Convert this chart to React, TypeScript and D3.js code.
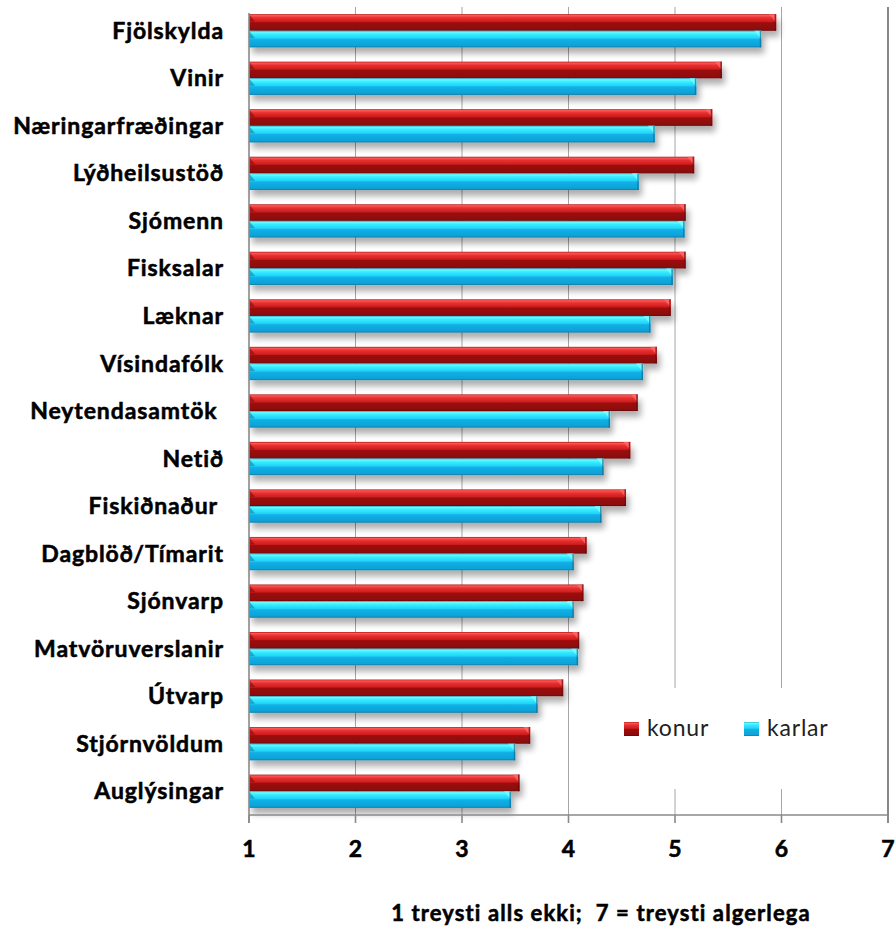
import React from "react";
import * as d3 from "d3";

const categories = [
  "Fjölskylda",
  "Vinir",
  "Næringarfræðingar",
  "Lýðheilsustöð",
  "Sjómenn",
  "Fisksalar",
  "Læknar",
  "Vísindafólk",
  "Neytendasamtök ",
  "Netið",
  "Fiskiðnaður ",
  "Dagblöð/Tímarit",
  "Sjónvarp",
  "Matvöruverslanir",
  "Útvarp",
  "Stjórnvöldum",
  "Auglýsingar",
];
const konur = [5.95, 5.44, 5.35, 5.18, 5.1, 5.1, 4.96, 4.83, 4.65, 4.58, 4.54, 4.17, 4.14, 4.1, 3.95, 3.64, 3.54];
const karlar = [5.81, 5.2, 4.81, 4.66, 5.09, 4.98, 4.77, 4.7, 4.39, 4.33, 4.31, 4.05, 4.05, 4.09, 3.71, 3.5, 3.46];
const seriesNames = ["konur", "karlar"];
const xTicks = [1, 2, 3, 4, 5, 6, 7];
const axisTitle = "1 treysti alls ekki;  7 = treysti algerlega";

const W = 895;
const H = 926;

export default function App() {
  const x = d3.scaleLinear().domain([1, 7]).range([249, 888]);
  const y = d3.scaleBand<string>().domain(categories).range([7, 815]).paddingInner(0.3).paddingOuter(0.15);
  const inner = d3.scaleBand<string>().domain(seriesNames).range([0, y.bandwidth()]).padding(0);
  const bh = inner.bandwidth();
  const plotTop = 7;
  const axisY = 815;
  const labelFont = "Lato, 'Open Sans', sans-serif";

  const bar = (value: number, yy: number, s: string, key: string) => {
    const x0 = x(1);
    const x1 = x(value);
    const fill = s === "konur" ? "url(#gRed)" : "url(#gBlue)";
    const capLight = s === "konur" ? "#ff6a6a" : "#7ffbff";
    const capDark = s === "konur" ? "#6e0606" : "#0f6f98";
    return (
      <g key={key}>
        <rect x={x0} y={yy} width={x1 - x0} height={bh} fill={fill} />
        <polygon points={`${x1 - 7},${yy} ${x1},${yy} ${x1},${yy + bh * 0.5}`} fill={capLight} opacity={0.8} />
        <rect x={x1 - 1.5} y={yy} width={1.5} height={bh} fill={capDark} opacity={0.7} />
        <polygon points={`${x0},${yy} ${x0 + 6},${yy + bh * 0.45} ${x0},${yy + bh * 0.45}`} fill={capDark} opacity={0.5} />
      </g>
    );
  };

  const boldText = { stroke: "#000", strokeWidth: 0.55, paintOrder: "stroke" as const };

  return (
    <svg width={W} height={H} style={{ position: "absolute", left: 0, top: 0, background: "#fff" }}>
      <defs>
        <linearGradient id="gRed" x1="0" y1="0" x2="0" y2="1">
          <stop offset="0" stopColor="#b01515" />
          <stop offset="0.08" stopColor="#ff5656" />
          <stop offset="0.22" stopColor="#e83030" />
          <stop offset="0.45" stopColor="#cc1e1e" />
          <stop offset="0.52" stopColor="#9c0d0d" />
          <stop offset="0.9" stopColor="#8c0a0a" />
          <stop offset="1" stopColor="#660505" />
        </linearGradient>
        <linearGradient id="gBlue" x1="0" y1="0" x2="0" y2="1">
          <stop offset="0" stopColor="#22a8cc" />
          <stop offset="0.08" stopColor="#6afaff" />
          <stop offset="0.22" stopColor="#34ecff" />
          <stop offset="0.45" stopColor="#22d2f8" />
          <stop offset="0.52" stopColor="#12b0e6" />
          <stop offset="0.9" stopColor="#0fa2d8" />
          <stop offset="1" stopColor="#14789e" />
        </linearGradient>
        <filter id="shadow" x="-5%" y="-20%" width="115%" height="160%">
          <feGaussianBlur in="SourceAlpha" stdDeviation="3" />
          <feOffset dx="3" dy="6" result="blur" />
          <feComponentTransfer>
            <feFuncA type="linear" slope="0.32" />
          </feComponentTransfer>
          <feMerge>
            <feMergeNode />
            <feMergeNode in="SourceGraphic" />
          </feMerge>
        </filter>
      </defs>

      {/* gridlines */}
      {xTicks.slice(1, 6).map((t) => (
        <line key={`g${t}`} x1={x(t)} x2={x(t)} y1={plotTop} y2={axisY} stroke="#a6a6a6" strokeWidth={1} />
      ))}
      <line x1={x(7)} x2={x(7)} y1={plotTop} y2={axisY + 8} stroke="#6a6a6a" strokeWidth={1.6} />

      {/* legend background */}
      <rect x={600} y={688} width={x(7) - 1 - 600} height={101} fill="#fff" />

      {/* bars */}
      {categories.map((c, i) => {
        const y0 = y(c)!;
        return (
          <g key={c} filter="url(#shadow)">
            {bar(konur[i], y0 + inner("konur")!, "konur", c + "k")}
            {bar(karlar[i], y0 + inner("karlar")!, "karlar", c + "m")}
          </g>
        );
      })}

      {/* axes */}
      <line x1={x(1)} x2={x(1)} y1={plotTop + 6} y2={axisY + 8} stroke="#8a8a8a" strokeWidth={1.6} />
      <line x1={x(1)} x2={x(7)} y1={axisY} y2={axisY} stroke="#8a8a8a" strokeWidth={1.6} />
      {xTicks.map((t) => (
        <g key={`t${t}`}>
          <line x1={x(t)} x2={x(t)} y1={axisY} y2={axisY + 8} stroke="#8a8a8a" strokeWidth={1.6} />
          <text x={x(t)} y={857} textAnchor="middle" fontFamily={labelFont} fontWeight={700} fontSize={23} fill="#000" style={boldText}>
            {t}
          </text>
        </g>
      ))}

      {/* category labels */}
      {categories.map((c) => (
        <text
          key={`l${c}`}
          x={224}
          y={y(c)! + y.bandwidth() / 2}
          dy="0.35em"
          textAnchor="end"
          fontFamily={labelFont}
          fontWeight={700}
          fontSize={23}
          letterSpacing={0.9}
          fill="#000"
          style={{ whiteSpace: "pre", ...boldText }}
        >
          {c}
        </text>
      ))}

      {/* legend */}
      <rect x={624} y={722} width={15} height={14} fill="url(#gRed)" />
      <text x={647} y={736} fontFamily={labelFont} fontSize={23} letterSpacing={0.8} fill="#222">
        {seriesNames[0]}
      </text>
      <rect x={744} y={722} width={15} height={14} fill="url(#gBlue)" />
      <text x={767} y={736} fontFamily={labelFont} fontSize={23} letterSpacing={0.8} fill="#222">
        {seriesNames[1]}
      </text>

      {/* axis title */}
      <text
        x={601}
        y={921}
        textAnchor="middle"
        fontFamily={labelFont}
        fontWeight={700}
        fontSize={22}
        letterSpacing={1.1}
        fill="#000"
        style={{ whiteSpace: "pre", ...boldText }}
      >
        {axisTitle}
      </text>
    </svg>
  );
}
